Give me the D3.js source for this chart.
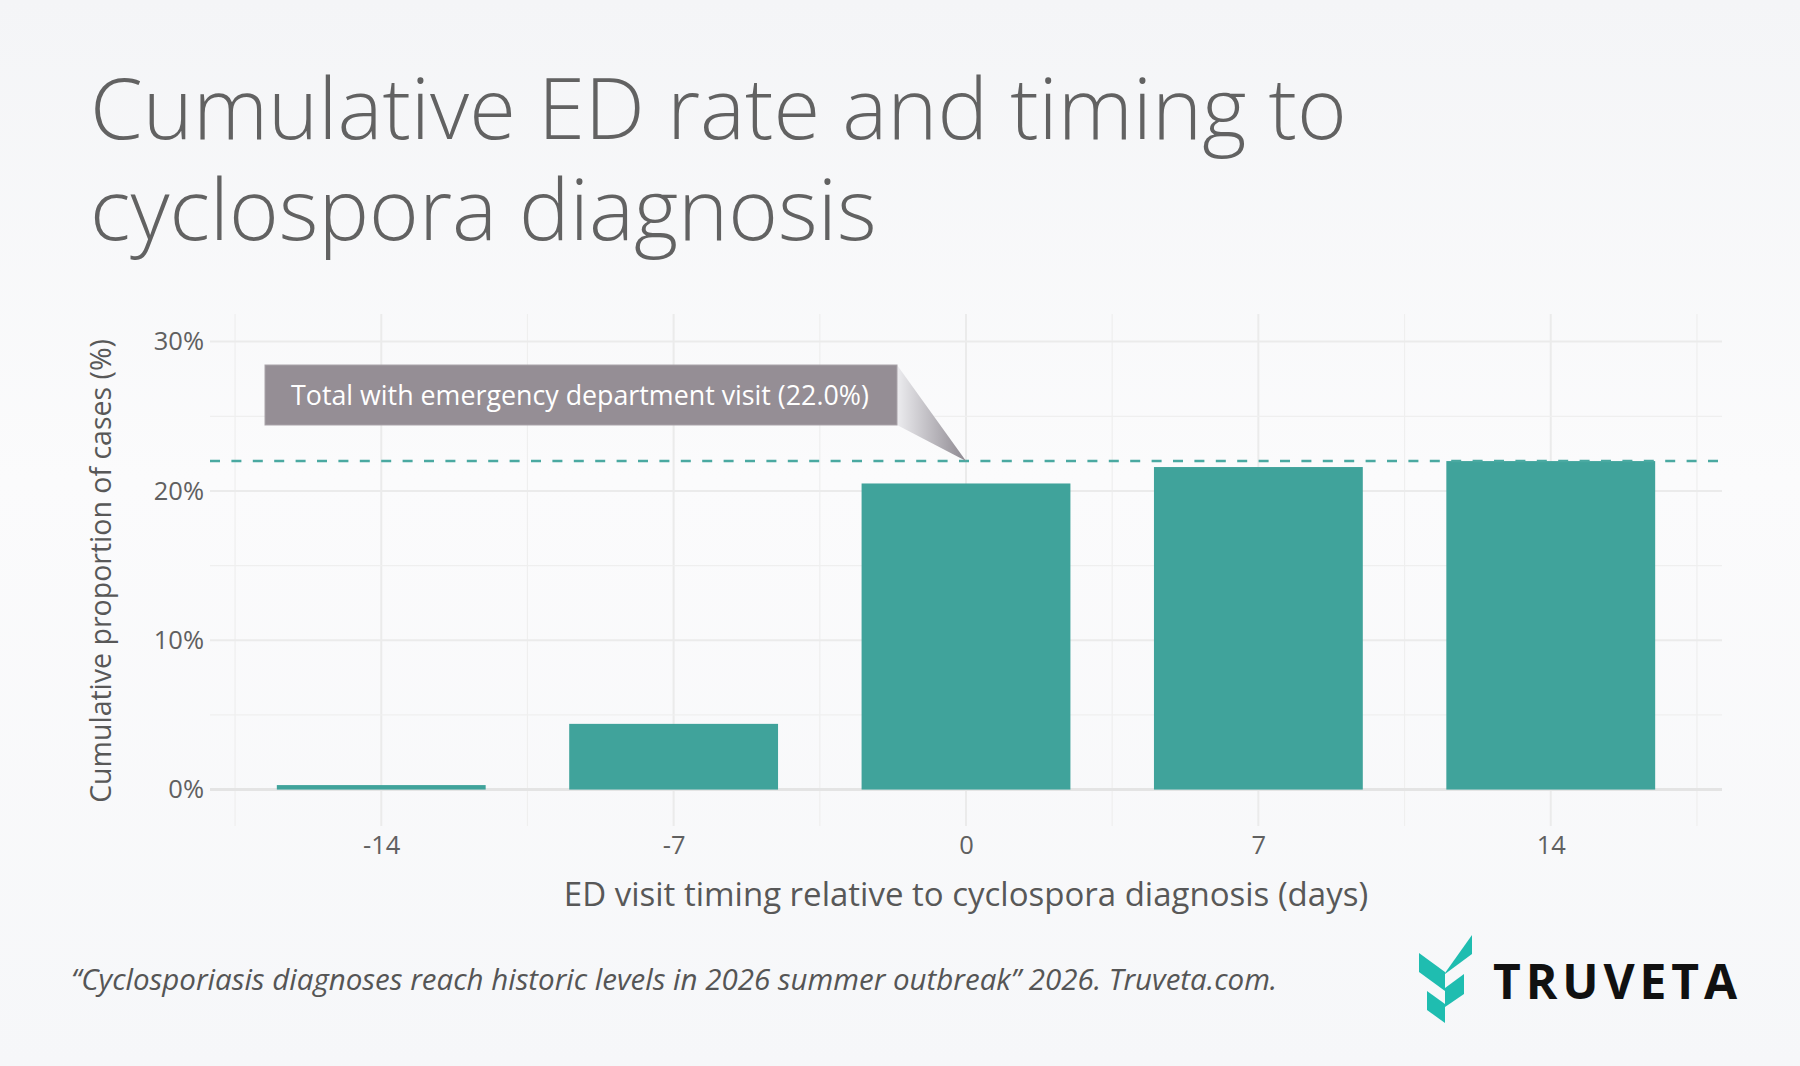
<!DOCTYPE html>
<html>
<head>
<meta charset="utf-8">
<script src="https://cdn.jsdelivr.net/npm/d3@7"></script>
<style>
  html, body { margin: 0; padding: 0; }
  body { width: 1800px; height: 1066px; overflow: hidden; }
  svg text { font-family: "Open Sans", sans-serif; }
</style>
</head>
<body>
<svg id="chart" width="1800" height="1066"></svg>
<script>
// data
const days = [-14, -7, 0, 7, 14];
const cumulativePct = [0.3, 4.4, 20.5, 21.6, 22.0];
const totalPct = 22.0;
const yTicks = [0, 10, 20, 30];
const yMinorTicks = [5, 15, 25];
const xMinorTicks = [-17.5, -10.5, -3.5, 3.5, 10.5, 17.5];

const titleLines = ["Cumulative ED rate and timing to", "cyclospora diagnosis"];
const xTitle = "ED visit timing relative to cyclospora diagnosis (days)";
const yTitle = "Cumulative proportion of cases (%)";
const annotationText = "Total with emergency department visit (22.0%)";
const sourceText = "\u201CCyclosporiasis diagnoses reach historic levels in 2026 summer outbreak\u201D 2026. Truveta.com.";

const teal = "#40a39b";

const svg = d3.select("#chart");
const defs = svg.append("defs");

// background
const bg = defs.append("linearGradient").attr("id", "bg").attr("x1", 0).attr("y1", 0).attr("x2", 0).attr("y2", 1);
bg.append("stop").attr("offset", "0%").attr("stop-color", "#f4f5f7");
bg.append("stop").attr("offset", "45%").attr("stop-color", "#fbfbfc");
bg.append("stop").attr("offset", "100%").attr("stop-color", "#f6f7f9");
svg.append("rect").attr("width", 1800).attr("height", 1066).attr("fill", "url(#bg)");

// title
svg.append("g").selectAll("text")
  .data(titleLines)
  .join("text")
  .attr("x", 90)
  .attr("y", (d, i) => 139 + i * 101)
  .attr("font-size", 85)
  .attr("font-weight", 300)
  .attr("fill", "#626262")
  .text(d => d);

// scales
const plotL = 210, plotR = 1722, plotT = 314, plotB = 826;
const x = d3.scaleLinear().domain([-18.1, 18.1]).range([plotL, plotR]);
const y = d3.scaleLinear().domain([-2.44, 31.85]).range([plotB, plotT]);

// grid
const grid = svg.append("g");
grid.selectAll("line.vmin").data(xMinorTicks).join("line")
  .attr("x1", d => x(d)).attr("x2", d => x(d)).attr("y1", plotT).attr("y2", plotB)
  .attr("stroke", "#efefef").attr("stroke-width", 1.2);
grid.selectAll("line.vmaj").data(days).join("line")
  .attr("x1", d => x(d)).attr("x2", d => x(d)).attr("y1", plotT).attr("y2", plotB)
  .attr("stroke", "#ebebeb").attr("stroke-width", 2);
grid.selectAll("line.hmin").data(yMinorTicks).join("line")
  .attr("x1", plotL).attr("x2", plotR).attr("y1", d => y(d)).attr("y2", d => y(d))
  .attr("stroke", "#efefef").attr("stroke-width", 1.2);
grid.selectAll("line.hmaj").data(yTicks).join("line")
  .attr("x1", plotL).attr("x2", plotR).attr("y1", d => y(d)).attr("y2", d => y(d))
  .attr("stroke", d => d === 0 ? "#e4e4e4" : "#ebebeb")
  .attr("stroke-width", d => d === 0 ? 3 : 2);

// bars
svg.append("g").selectAll("rect")
  .data(days.map((d, i) => ({ day: d, value: cumulativePct[i] })))
  .join("rect")
  .attr("x", d => x(d.day - 2.5))
  .attr("width", d => x(d.day + 2.5) - x(d.day - 2.5))
  .attr("y", d => y(d.value))
  .attr("height", d => y(0) - y(d.value))
  .attr("fill", teal);

// dashed total line
svg.append("line")
  .attr("x1", plotL).attr("x2", plotR)
  .attr("y1", y(totalPct)).attr("y2", y(totalPct))
  .attr("stroke", "#4aa9a1").attr("stroke-width", 2.5)
  .attr("stroke-dasharray", "10,11.4");

// axes
const yAxis = svg.append("g")
  .attr("transform", `translate(${plotL},0)`)
  .call(d3.axisLeft(y).tickValues(yTicks).tickSize(0).tickPadding(6).tickFormat(d => d + "%"));
const xAxis = svg.append("g")
  .attr("transform", `translate(0,${plotB})`)
  .call(d3.axisBottom(x).tickValues(days).tickSize(0).tickPadding(10).tickFormat(d => d));
[yAxis, xAxis].forEach(a => {
  a.select(".domain").remove();
  a.selectAll("text")
    .attr("font-family", "Open Sans")
    .attr("font-size", 25.5)
    .attr("fill", "#606060");
});

svg.append("text")
  .attr("x", (plotL + plotR) / 2)
  .attr("y", 906)
  .attr("text-anchor", "middle")
  .attr("font-size", 33)
  .attr("fill", "#585858")
  .text(xTitle);

svg.append("text")
  .attr("transform", `translate(111,571) rotate(-90)`)
  .attr("text-anchor", "middle")
  .attr("font-size", 28.5)
  .attr("fill", "#585858")
  .text(yTitle);

// annotation callout pointing at (0, 22%)
const tipX = x(0), tipY = y(totalPct);
const box = { x0: 265, x1: 897, y0: 365, y1: 425 };
const pg = defs.append("linearGradient").attr("id", "pointer")
  .attr("gradientUnits", "userSpaceOnUse")
  .attr("x1", box.x1).attr("y1", 0).attr("x2", tipX).attr("y2", 0);
pg.append("stop").attr("offset", "0%").attr("stop-color", "#ececef");
pg.append("stop").attr("offset", "100%").attr("stop-color", "#8d8890");
svg.append("path")
  .attr("d", `M${box.x1},${box.y0}L${tipX},${tipY}L${box.x1},${box.y1}Z`)
  .attr("fill", "url(#pointer)");
svg.append("rect")
  .attr("x", box.x0).attr("y", box.y0)
  .attr("width", box.x1 - box.x0).attr("height", box.y1 - box.y0)
  .attr("fill", "#958e95").attr("stroke", "#a9a3a9").attr("stroke-width", 1);
svg.append("text")
  .attr("x", 291).attr("y", 405)
  .attr("font-size", 26.8)
  .attr("fill", "#ffffff")
  .text(annotationText);

// source
svg.append("text")
  .attr("x", 71).attr("y", 990)
  .attr("font-size", 29.5)
  .attr("font-style", "italic")
  .attr("fill", "#555555")
  .text(sourceText);

// logo
const logo = svg.append("g").attr("fill", "#1fbdb0");
const logoShapes = [
  [[1419, 953], [1445, 972], [1445, 991], [1419, 972]],
  [[1445, 973], [1472, 935], [1472, 954], [1445, 974]],
  [[1427, 991], [1445, 1004], [1445, 1023], [1427, 1010]],
  [[1445, 988], [1464, 974], [1464, 994], [1445, 1007]]
];
logo.selectAll("path").data(logoShapes).join("path")
  .attr("d", d => "M" + d.join("L") + "Z");
svg.append("text")
  .attr("x", 1493).attr("y", 999)
  .attr("font-family", "Lato")
  .attr("font-size", 48)
  .attr("font-weight", 700)
  .attr("fill", "#111111")
  .attr("textLength", 244)
  .attr("lengthAdjust", "spacing")
  .text("TRUVETA");
</script>
</body>
</html>
